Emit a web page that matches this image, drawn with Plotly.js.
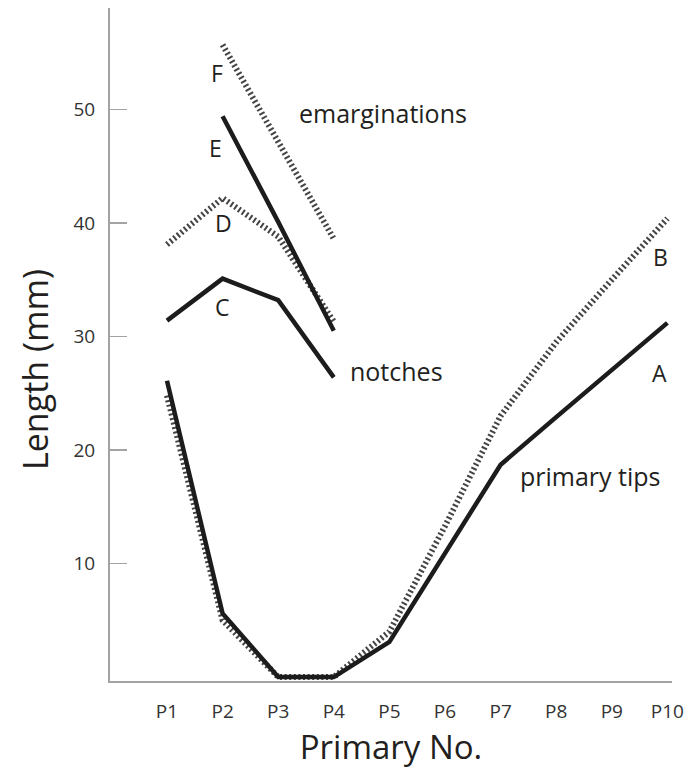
<!DOCTYPE html>
<html>
<head>
<meta charset="utf-8">
<script src="https://cdn.plot.ly/plotly-3.0.1.min.js"></script>
<style>html,body{margin:0;padding:0;background:#fff;}#chart{width:692px;height:774px;}</style>
</head>
<body>
<div id="chart"></div>
<script>
// Categories (primary feathers)
const categories = ['P1','P2','P3','P4','P5','P6','P7','P8','P9','P10'];
// Primary tips (mm)
const tipsA = [26.1, 5.6, 0, 0, 3.1, 10.9, 18.7, 22.9, 27.0, 31.2];
const tipsB = [24.8, 5.0, 0, 0, 4.0, 13.3, 23.0, 29.5, 35.0, 40.4];
// Notches (P1-P4)
const notchCats = ['P1','P2','P3','P4'];
const notchC = [31.4, 35.1, 33.2, 26.4];
const notchD = [38.1, 42.2, 38.8, 31.3];
// Emarginations (P2-P4)
const emargCats = ['P2','P3','P4'];
const emargE = [49.4, 40.1, 30.5];
const emargF = [55.7, 47.2, 38.6];
// Y tick values
const yTicks = [10, 20, 30, 40, 50];

const solid = {color: '#1c1c1c', width: 4.5};
const dotted = {color: '#444444', width: 6, dash: '2px,2.6px'};

const traces = [
  {x: categories, y: tipsB, mode: 'lines', line: dotted, name: 'B'},
  {x: categories, y: tipsA, mode: 'lines', line: solid, name: 'A'},
  {x: notchCats, y: notchD, mode: 'lines', line: dotted, name: 'D'},
  {x: notchCats, y: notchC, mode: 'lines', line: solid, name: 'C'},
  {x: emargCats, y: emargF, mode: 'lines', line: dotted, name: 'F'},
  {x: emargCats, y: emargE, mode: 'lines', line: solid, name: 'E'}
];

const txtFont = {family: 'Open Sans, sans-serif', size: 25, color: '#231f20'};
const letFont = {family: 'Open Sans, sans-serif', size: 23, color: '#231f20'};
function letter(t, x, y) {
  return {text: t, x: x, y: y, xref: 'x', yref: 'y', showarrow: false, font: letFont, xanchor: 'center', yanchor: 'middle'};
}
function label(t, x, y) {
  return {text: t, x: x, y: y, xref: 'x', yref: 'y', showarrow: false, font: txtFont, xanchor: 'left', yanchor: 'middle'};
}

const layout = {
  width: 692, height: 774,
  margin: {l: 110, r: 20, t: 8, b: 93},
  paper_bgcolor: '#ffffff', plot_bgcolor: '#ffffff',
  showlegend: false,
  xaxis: {
    type: 'category',
    categoryarray: categories,
    range: [-1.025, 9.083],
    showgrid: false, zeroline: false,
    showline: true, linecolor: '#a3a3a6', linewidth: 2,
    ticks: '', ticklabelstandoff: 12,
    tickfont: {family: 'Open Sans, sans-serif', size: 19, color: '#333333'},
    title: {text: 'Primary No.', font: {family: 'Open Sans, sans-serif', size: 33, color: '#231f20'}, standoff: 10}
  },
  yaxis: {
    range: [-0.35, 58.94],
    tickvals: yTicks,
    ticktext: yTicks.map(String),
    showgrid: false, zeroline: false,
    showline: true, linecolor: '#a3a3a6', linewidth: 2,
    ticks: 'inside', ticklen: 17, tickwidth: 1.5, tickcolor: '#a3a3a6',
    ticklabelstandoff: 9,
    tickfont: {family: 'Open Sans, sans-serif', size: 19, color: '#333333'}
  },
  annotations: [
    {text: 'Length (mm)', xref: 'paper', yref: 'paper', x: -0.1335, y: 0.4636,
     xanchor: 'center', yanchor: 'middle', textangle: -90, showarrow: false,
     font: {family: 'Open Sans, sans-serif', size: 34, color: '#231f20'}},
    letter('F', 0.894, 53.2),
    letter('E', 0.876, 46.6),
    letter('D', 1.025, 40.0),
    letter('C', 0.99, 32.6),
    letter('B', 8.88, 37.0),
    letter('A', 8.85, 26.8),
    label('emarginations', 2.333, 49.7),
    label('notches', 3.255, 27.0),
    label('primary tips', 6.313, 17.7)
  ]
};

Plotly.newPlot('chart', traces, layout, {staticPlot: true, displayModeBar: false});
</script>
</body>
</html>
